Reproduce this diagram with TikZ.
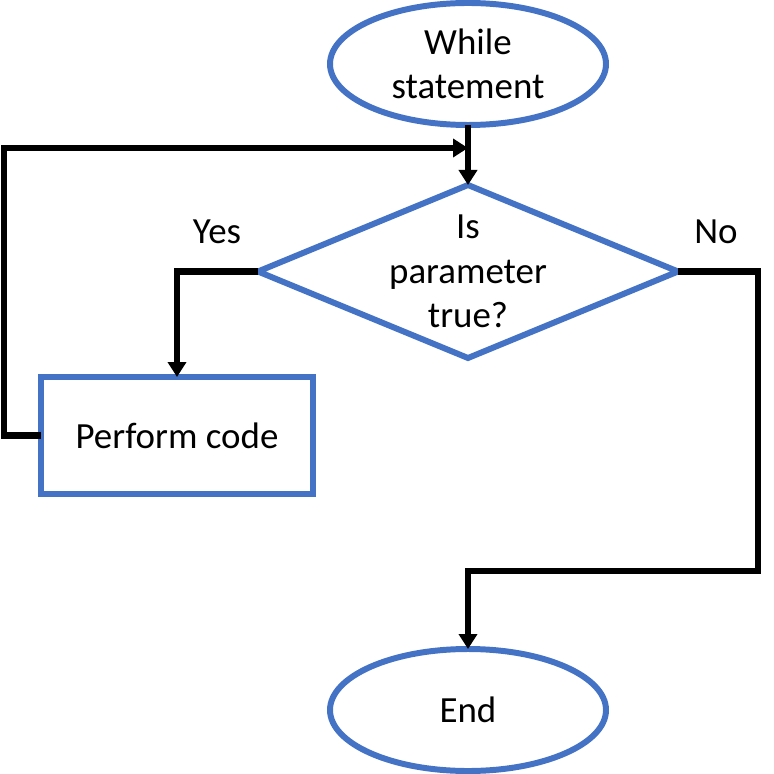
\documentclass[tikz,border=0pt]{standalone}
\usepackage{fontspec}
\setmainfont{Carlito}
\usetikzlibrary{shapes,arrows.meta,positioning,calc}

\definecolor{shapeblue}{HTML}{4472C4}
\tikzset{
  terminal/.style={ellipse,draw=shapeblue,line width=1.7pt,inner sep=0pt,outer sep=0pt,
    minimum width=2.76cm,minimum height=1.22cm,align=center},
  decision/.style={diamond,draw=shapeblue,line width=1.7pt,inner sep=0pt,outer sep=0pt,
    minimum width=4.2cm,minimum height=1.73cm},
  process/.style={rectangle,draw=shapeblue,line width=1.7pt,inner sep=0pt,outer sep=0pt,
    minimum width=2.72cm,minimum height=1.17cm},
  flow/.style={-{Triangle[width=0.18cm,length=0.15cm]},line width=1.85pt}
}

\begin{document}
\begin{tikzpicture}[node distance=0.6cm,font=\fontsize{10.5}{12.6}\selectfont]
\useasboundingbox (0,0) rectangle (7.73,-7.74);
% Nodes
\node[terminal] (start) at (4.68,-0.64) {While\\statement};
\node[decision,below=of start] (test) {};
\node[align=center] (testtext) at (test) {Is\\parameter\\true?};
\node[process] (work) at (1.77,-4.355) {Perform code};
\node[terminal,below=2.91cm of test] (stop) {End};

% Labels
\node (yes) at (2.17,-2.32) {Yes};
\node (no) at (7.16,-2.32) {No};

% Bends
\coordinate (merge) at (4.68,-1.48);
\coordinate (nobend) at (7.58,-5.71);

% Arcs
\draw[flow] (start) -- (test);
\draw[flow] (test.west) -| (work.north);
\draw[flow] (work.west) -- ++(-0.37,0) |- (merge);
\draw[flow] (test.east) -| (nobend) -| (stop.north);
\end{tikzpicture}
\end{document}
